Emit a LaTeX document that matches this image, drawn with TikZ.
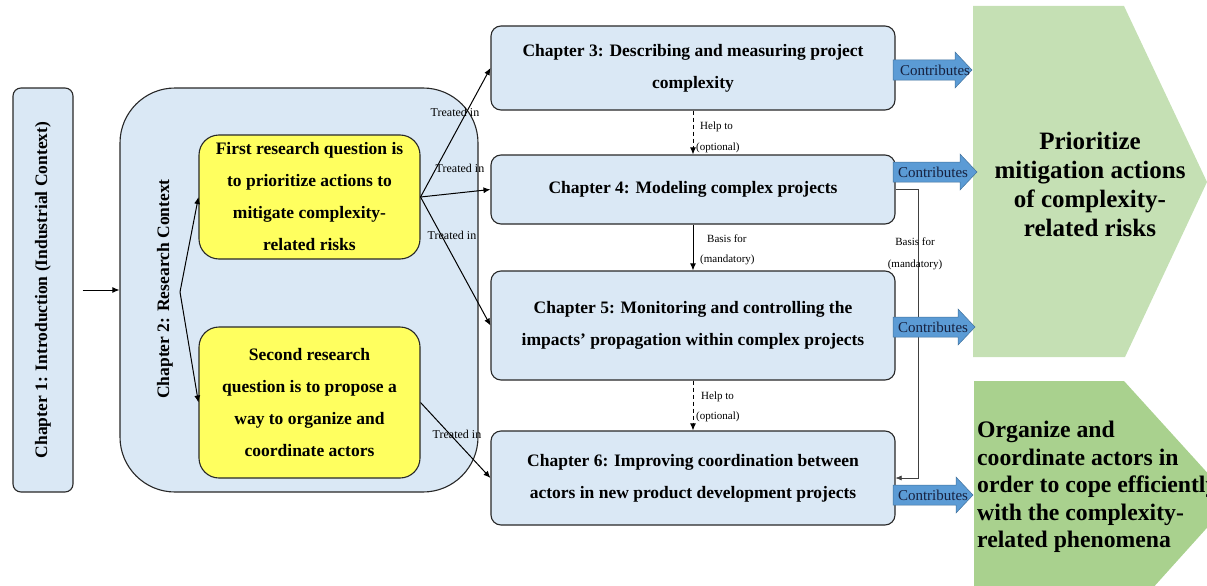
\documentclass[tikz,border=0pt]{standalone}
\usepackage{fontspec}
\setmainfont{Liberation Serif}
\usetikzlibrary{arrows.meta}
\definecolor{chblue}{RGB}{218,232,245}
\definecolor{qyellow}{RGB}{255,255,95}
\definecolor{contrib}{RGB}{91,155,213}
\definecolor{contribedge}{RGB}{65,113,156}
\definecolor{gone}{RGB}{197,224,180}
\definecolor{gtwo}{RGB}{169,209,142}
\definecolor{navy}{RGB}{22,32,62}
\definecolor{edgegray}{RGB}{40,40,40}
\begin{document}
\begin{tikzpicture}[x=1pt,y=-1pt,
  boxtext/.style={font=\bfseries\fontsize{17.5}{32}\selectfont},
  chbox/.style={draw=edgegray, line width=1.1pt, fill=chblue, rounded corners=10pt, inner sep=0pt, align=center, boxtext},
  qbox/.style={draw=edgegray, line width=1.1pt, fill=qyellow, rounded corners=20pt, inner sep=0pt, align=center, boxtext},
  arr/.style={-{Latex[length=7pt,width=6pt]}, line width=1pt, draw=black},
  dasharr/.style={arr, dash pattern=on 4pt off 3pt},
  small/.style={font=\fontsize{12}{14}\selectfont, inner sep=0pt},
  tiny/.style={font=\fontsize{11}{13}\selectfont, inner sep=0pt, anchor=west},
  contribtext/.style={font=\fontsize{15}{17}\selectfont, text=navy, inner sep=0pt},
  bigarrow/.style={fill=contrib, draw=contribedge, line width=0.5pt},
]
\useasboundingbox (0,0) rectangle (1207,586);
\clip (0,0) rectangle (1207,586);

% green outcome shapes
\fill[gone] (973,6) -- (1124,6) -- (1207,182) -- (1125,357) -- (973,357) -- cycle;
\fill[gtwo] (974,381) -- (1124,381) -- (1232,500) -- (1124,620) -- (974,620) -- cycle;
\node[font=\bfseries\fontsize{25}{29}\selectfont, align=center, inner sep=0pt] (goal1) at (1090,184)
  {Prioritize\\mitigation actions\\of complexity-\\related risks};
\node[font=\bfseries\fontsize{23.7}{27.5}\selectfont, align=left, inner sep=0pt, anchor=west] (goal2) at (977,487)
  {Organize and\\coordinate actors in\\order to cope efficiently\\with the complexity-\\related phenomena};

% Chapter 1 and 2
\node[chbox, rounded corners=8pt, minimum width=60pt, minimum height=404pt] (ch1) at (43,290) {};
\node[boxtext, rotate=90] (ch1t) at (ch1) {Chapter 1: Introduction (Industrial Context)};
\node[chbox, rounded corners=55pt, minimum width=358pt, minimum height=404pt] (ch2) at (299,290) {};
\node[boxtext, rotate=90] (ch2t) at (165,289) {Chapter 2: Research Context};
\draw[arr] ([xshift=9pt]ch1.east) -- (ch2.west);

% research questions
\node[qbox, minimum width=221pt, minimum height=124pt] (q1) at (309.5,197)
  {First research question is\\to prioritize actions to\\mitigate complexity-\\related risks};
\node[qbox, minimum width=221pt, minimum height=151pt] (q2) at (309.5,402.5)
  {Second research\\question is to propose a\\way to organize and\\coordinate actors};
\coordinate (br) at (180,292);
\draw[arr] (br) -- (q1.west);
\draw[arr] (br) -- (q2.west);

% chapters 3-6
\node[chbox, minimum width=404pt, minimum height=84pt] (ch3) at (693,68)
  {Chapter 3: Describing and measuring project\\complexity};
\node[chbox, minimum width=404pt, minimum height=69pt] (ch4) at (693,189.5)
  {Chapter 4: Modeling complex projects};
\node[chbox, minimum width=404pt, minimum height=109pt] (ch5) at (693,325.5)
  {Chapter 5: Monitoring and controlling the\\impacts' propagation within complex projects};
\node[chbox, minimum width=404pt, minimum height=94pt] (ch6) at (693,478)
  {Chapter 6: Improving coordination between\\actors in new product development projects};

% treated in
\draw[arr] (q1.east) -- (ch3.west);
\draw[arr] (q1.east) -- (ch4.west);
\draw[arr] (q1.east) -- (ch5.west);
\draw[arr] (q2.east) -- (ch6.west);
\node[small] (t1) at (455,112) {Treated in};
\node[small] (t2) at (460,168) {Treated in};
\node[small] (t3) at (452,235) {Treated in};
\node[small] (t4) at (457,434) {Treated in};

% vertical links
\draw[dasharr] (ch3.south) -- (ch4.north);
\node[tiny] (h1a) at (700,127) {Help to};
\node[tiny] (h1b) at (696,148) {(optional)};
\draw[arr] (ch4.south) -- (ch5.north);
\node[tiny] (b1a) at (707,239) {Basis for};
\node[tiny] (b1b) at (700,260) {(mandatory)};
\draw[dasharr] (ch5.south) -- (ch6.north);
\node[tiny] (h2a) at (701,397) {Help to};
\node[tiny] (h2b) at (696,417) {(optional)};

% right side basis link
\draw[-{Latex[length=6pt,width=5pt]}, line width=0.6pt, draw=black!75] (ch4.east) -- ++(23,0) |- (ch6.east);
\node[tiny, anchor=center] (b2a) at (915,242) {Basis for};
\node[tiny, anchor=center] (b2b) at (915,265) {(mandatory)};

% contributes arrows
\draw[bigarrow] (893,60) -- (955,60) -- (955,52) -- (972,70) -- (955,88) -- (955,80) -- (893,80) -- cycle;
\node[contribtext] (c1) at (935,70) {Contributes};
\draw[bigarrow] (893,162) -- (960,162) -- (960,154) -- (977,172) -- (960,190) -- (960,182) -- (893,182) -- cycle;
\node[contribtext] (c2) at (933,172) {Contributes};
\draw[bigarrow] (893,317) -- (958,317) -- (958,309) -- (975,327) -- (958,345) -- (958,337) -- (893,337) -- cycle;
\node[contribtext] (c3) at (933,327) {Contributes};
\draw[bigarrow] (893,485) -- (956,485) -- (956,477) -- (973,495) -- (956,513) -- (956,505) -- (893,505) -- cycle;
\node[contribtext] (c4) at (933,495) {Contributes};
\end{tikzpicture}
\end{document}
